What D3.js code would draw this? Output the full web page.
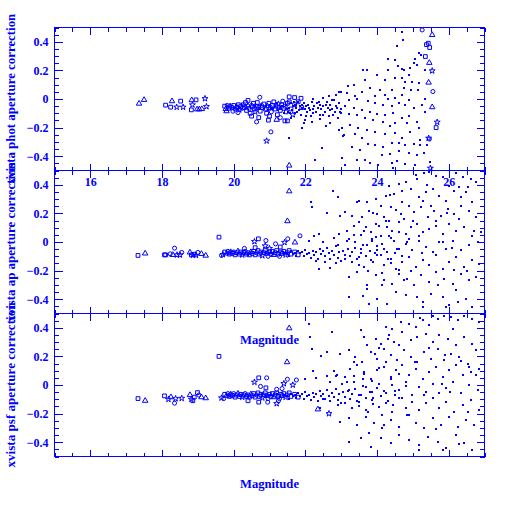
<!DOCTYPE html>
<html>
<head>
<meta charset="utf-8">
<script src="https://cdn.jsdelivr.net/npm/d3@7"></script>
<style>
body { margin: 0; background: #fff; }
svg text { font-family: "Liberation Serif", "DejaVu Serif", serif; font-weight: bold; font-size: 12px; fill: #0000ff; }
</style>
</head>
<body>
<div id="chart"></div>
<script>
// axis ranges and labels
const magRange = [15, 27];
const corrRange = [-0.5, 0.5];
const xTickLabels = [16, 18, 20, 22, 24, 26];
const yTickLabels = [0.4, 0.2, 0, -0.2, -0.4];
const panelLabels = ['xvista phot aperture correction', 'xvista ap aperture correction', 'xvista psf aperture correction'];
const xLabel = 'Magnitude';

// bright stars: [mag, correction, symbol]  s=square t=triangle c=circle p=star
const photBright = [
  [17.36,-0.032,'t'],[17.50,-0.006,'t'],[18.10,-0.043,'s'],[18.24,-0.057,'s'],[18.28,-0.015,'t'],[18.52,-0.015,'s'],
  [18.41,-0.057,'p'],[18.59,-0.057,'p'],[18.83,-0.008,'t'],[18.95,-0.006,'s'],[18.85,-0.041,'p'],[18.82,-0.076,'s'],
  [18.98,-0.072,'t'],[19.04,-0.072,'t'],[19.11,-0.07,'t'],[19.20,0.003,'p'],[19.24,-0.053,'p'],
  [19.75,-0.05,'s'],[19.78,-0.07,'t'],[19.82,-0.045,'c'],[19.86,-0.065,'s'],[19.9,-0.05,'p'],[19.95,-0.06,'s'],
  [19.98,-0.085,'c'],[20.0,-0.045,'s'],[20.04,-0.07,'s'],[20.08,-0.055,'t'],[20.1,-0.06,'s'],[20.13,-0.04,'s'],
  [20.16,-0.075,'p'],[20.2,-0.05,'s'],[20.24,-0.065,'c'],[20.27,-0.04,'s'],[20.3,-0.06,'s'],[20.33,-0.025,'s'],
  [20.36,-0.08,'s'],[20.4,-0.05,'t'],[20.43,-0.065,'s'],[20.46,-0.1,'s'],[20.5,-0.045,'c'],[20.52,-0.055,'s'],
  [20.55,-0.03,'s'],[20.58,-0.07,'s'],[20.6,-0.09,'p'],[20.63,-0.05,'s'],[20.66,-0.025,'s'],[20.7,-0.06,'s'],
  [20.74,-0.085,'s'],[20.78,-0.045,'c'],[20.8,-0.06,'s'],[20.84,-0.035,'s'],[20.88,-0.07,'s'],[20.92,-0.1,'s'],
  [20.94,-0.05,'t'],[20.98,-0.03,'s'],[21.02,-0.06,'s'],[21.05,-0.09,'c'],[21.08,-0.045,'s'],[21.12,-0.02,'s'],
  [21.15,-0.07,'s'],[21.18,-0.05,'s'],[21.22,-0.11,'s'],[21.25,-0.035,'p'],[21.28,-0.06,'s'],[21.3,-0.08,'s'],
  [21.34,-0.04,'s'],[21.37,-0.015,'c'],[21.4,-0.065,'s'],[21.44,-0.05,'s'],[21.47,-0.09,'s'],[21.5,-0.03,'s'],
  [21.55,-0.02,'s'],[21.6,-0.07,'s'],[21.65,-0.11,'p'],[21.7,-0.04,'s'],[21.8,-0.02,'s'],[21.9,-0.06,'s'],
  [20.73,0.012,'c'],[20.64,-0.16,'c'],[21.04,-0.23,'c'],[20.92,-0.293,'p'],[21.55,-0.465,'t'],[20.97,-0.148,'s'],
  [21.43,-0.153,'s'],[21.5,-0.153,'s'],[20.4,-0.01,'s'],[20.5,-0.12,'s'],[20.7,-0.13,'s'],[21.0,-0.12,'s'],
  [21.3,-0.13,'c'],[21.55,0.015,'s'],[21.7,0.01,'s'],[21.88,0.005,'s'],[19.8,-0.085,'t'],[20.12,-0.095,'c'],
  [21.2,-0.145,'t'],
  [25.26,0.483,'c'],[25.54,0.448,'t'],[25.43,0.39,'s'],[25.47,0.36,'s'],[25.38,0.38,'s'],[25.35,0.297,'s'],
  [25.46,0.253,'t'],[25.54,0.197,'p'],[25.44,0.115,'t'],[25.56,0.052,'c'],[25.54,-0.057,'t'],[25.68,-0.162,'p'],
  [25.65,-0.2,'s'],[25.44,-0.274,'p'],[25.46,-0.28,'c'],[25.49,-0.484,'p']
];

// faint stars: [mag, correction]
const photFaint = [
  [20.6,-0.05],[20.7,-0.06],[20.75,-0.04],[20.85,-0.07],[20.9,-0.05],[20.95,-0.08],[21.0,-0.04],[21.05,-0.06],
  [21.1,-0.07],[21.15,-0.05],[21.2,-0.03],[21.25,-0.08],[21.3,-0.06],[21.35,-0.05],[21.4,-0.1],[21.45,-0.04],
  [21.5,-0.07],[21.55,-0.06],[21.6,-0.03],[21.62,-0.08],[21.65,-0.05],[21.7,-0.1],[21.72,-0.04],[21.75,-0.06],
  [21.8,-0.02],[21.82,-0.08],[21.85,-0.05],[21.88,-0.11],[21.9,-0.06],[21.95,-0.03],[22.0,-0.07],[22.02,-0.05],
  [22.05,-0.09],[22.08,-0.04],[22.1,-0.06],[22.15,-0.12],[22.18,-0.02],[22.2,-0.07],[22.25,-0.05],[22.3,-0.09],
  [22.32,-0.03],[22.35,-0.06],[22.4,-0.11],[22.42,-0.04],[22.45,-0.07],[22.5,-0.05],[22.55,-0.09],[22.6,-0.02],
  [22.62,-0.06],[22.65,-0.12],[22.7,-0.04],[22.75,-0.07],[22.8,-0.01],[22.82,-0.09],[22.85,-0.05],[22.9,-0.13],
  [22.95,-0.03],[23.0,-0.07],
  [21.52,-0.09],[21.68,-0.02],[21.78,-0.09],[21.92,-0.04],[22.12,-0.08],[22.22,-0.1],[22.38,-0.02],[22.48,-0.11],
  [22.58,-0.04],[22.68,-0.08],[22.78,-0.11],[22.88,-0.06],[22.98,-0.09],[21.58,-0.1],[22.02,-0.12],
  [21.55,-0.274],[22.46,-0.34],[22.27,-0.426],[21.9,-0.2],[22.18,-0.16],[22.57,-0.19],[23.04,-0.258],[21.6,-0.13],
  [22.0,-0.15],[22.4,-0.14],[22.7,-0.17],[22.2,0.0],[22.5,0.01],[22.65,0.02],[22.85,0.03],[22.75,-0.01],
  [23.0,0.05],[21.95,-0.17],[22.95,-0.22],[23.0,-0.1],
  [24.70,0.47],[24.72,0.41],[24.56,0.37],[25.16,0.32],[25.24,0.31],[24.32,0.28],[24.51,0.27],[25.05,0.28],
  [25.02,0.25],[25.12,0.24],[24.59,0.23],[24.70,0.21],[24.93,0.22],[25.33,0.20],[24.32,0.20],[23.62,0.20],
  [23.72,0.20],[24.74,0.20],[24.0,0.17],[24.88,0.17],[23.35,0.10],[23.19,0.09],[23.67,0.13],[24.21,0.13],
  [24.51,0.15],[24.70,0.145],[24.79,0.12],[24.98,0.12],[25.16,0.115],[23.81,0.08],[23.58,0.05],[24.09,0.06],
  [24.42,0.065],[24.74,0.08],[24.96,0.065],[25.14,0.06],[22.93,0.05],[23.16,0.04],[23.39,0.02],[23.95,0.02],
  [24.23,0.03],[24.32,0.0],[24.51,0.005],[24.70,0.03],[24.88,-0.005],[25.35,0.0],[23.21,-0.006],[23.44,0.0],
  [23.76,-0.013],[23.95,-0.03],[24.18,-0.04],[24.42,-0.05],[24.60,-0.03],[24.79,-0.04],[25.02,-0.06],[25.26,-0.045],
  [23.11,-0.05],[23.35,-0.065],[23.58,-0.075],[23.81,-0.09],[24.0,-0.105],[24.23,-0.115],[24.46,-0.10],[24.70,-0.135],
  [24.88,-0.12],[25.12,-0.16],[25.33,-0.09],[23.21,-0.105],[23.44,-0.115],[23.67,-0.135],[23.90,-0.145],[24.18,-0.16],
  [24.37,-0.19],[24.51,-0.17],[24.84,-0.17],[25.16,-0.205],[23.02,-0.205],[23.25,-0.18],[23.48,-0.20],[23.72,-0.215],
  [23.95,-0.23],[24.23,-0.245],[24.51,-0.24],[24.70,-0.275],[24.93,-0.23],[25.21,-0.285],[23.07,-0.255],[23.39,-0.245],
  [23.58,-0.275],[23.76,-0.315],[23.95,-0.32],[24.18,-0.335],[24.42,-0.31],[24.60,-0.31],[24.79,-0.325],[25.02,-0.315],
  [25.21,-0.325],[25.40,-0.32],[23.30,-0.335],[23.53,-0.355],[24.14,-0.39],[24.37,-0.385],[24.60,-0.365],[24.88,-0.38],
  [25.12,-0.39],[25.30,-0.38],[23.02,-0.415],[23.44,-0.425],[23.67,-0.425],[23.81,-0.45],[24.04,-0.46],[24.42,-0.45],
  [24.56,-0.435],[24.79,-0.455],[25.07,-0.46],[25.49,-0.44],[23.11,-0.46],[24.46,-0.48]
];

const apBright = [
  [17.33,-0.094,'s'],[17.53,-0.08,'t'],[18.07,-0.09,'s'],[18.1,-0.09,'s'],[18.23,-0.083,'c'],[18.35,-0.043,'c'],
  [18.3,-0.09,'t'],[18.42,-0.09,'p'],[18.5,-0.09,'p'],[18.55,-0.073,'c'],[18.78,-0.073,'t'],[18.82,-0.09,'s'],
  [18.86,-0.092,'p'],[18.9,-0.085,'s'],[18.95,-0.093,'p'],[19.0,-0.073,'c'],[19.1,-0.083,'t'],[19.22,-0.095,'t'],
  [19.59,0.034,'s'],[19.66,-0.094,'c'],[19.7,-0.088,'p'],
  [19.75,-0.07,'s'],[19.8,-0.08,'t'],[19.84,-0.065,'c'],[19.88,-0.085,'s'],[19.92,-0.07,'p'],[19.96,-0.08,'s'],
  [20.0,-0.07,'c'],[20.04,-0.09,'s'],[20.08,-0.075,'s'],[20.12,-0.065,'t'],[20.16,-0.085,'s'],[20.2,-0.07,'s'],
  [20.24,-0.09,'p'],[20.28,-0.075,'s'],[20.32,-0.065,'c'],[20.36,-0.085,'s'],[20.4,-0.075,'s'],[20.44,-0.09,'s'],
  [20.48,-0.07,'t'],[20.52,-0.08,'s'],[20.56,-0.065,'s'],[20.6,-0.09,'s'],[20.64,-0.075,'c'],[20.68,-0.06,'s'],
  [20.72,-0.085,'s'],[20.76,-0.07,'s'],[20.8,-0.095,'p'],[20.84,-0.075,'s'],[20.88,-0.06,'s'],[20.92,-0.08,'s'],
  [20.96,-0.1,'c'],[21.0,-0.07,'s'],[21.04,-0.085,'s'],[21.08,-0.065,'s'],[21.12,-0.09,'t'],[21.16,-0.075,'s'],
  [21.2,-0.06,'s'],[21.24,-0.085,'s'],[21.28,-0.1,'c'],[21.32,-0.07,'s'],[21.36,-0.08,'s'],[21.4,-0.065,'s'],
  [21.45,-0.09,'p'],[21.5,-0.075,'s'],[21.55,-0.06,'s'],[21.6,-0.085,'s'],[21.7,-0.07,'s'],[21.8,-0.09,'s'],
  [20.58,0.003,'p'],[20.69,0.022,'s'],[20.9,0.01,'c'],[20.88,-0.027,'p'],[21.17,-0.013,'c'],[21.42,-0.003,'p'],
  [21.51,0.022,'c'],[21.71,-0.003,'t'],[21.85,0.043,'c'],[21.55,0.355,'t'],[21.5,0.146,'t'],[20.3,-0.045,'c'],
  [20.6,-0.04,'s'],[21.0,-0.045,'p'],[21.3,-0.035,'s']
];

const apFaint = [
  [20.8,-0.07],[20.9,-0.08],[21.0,-0.075],[21.1,-0.085],[21.2,-0.07],[21.3,-0.09],[21.4,-0.075],[21.5,-0.08],
  [21.55,-0.1],[21.6,-0.065],[21.65,-0.085],[21.7,-0.075],[21.75,-0.095],[21.8,-0.06],[21.85,-0.08],[21.9,-0.07],
  [21.95,-0.1],[22.0,-0.055],[22.05,-0.085],[22.1,-0.075],[22.15,-0.11],[22.2,-0.06],[22.25,-0.09],[22.3,-0.07],
  [22.35,-0.12],[22.4,-0.05],[22.45,-0.085],[22.5,-0.065],[22.55,-0.1],[22.6,-0.04],[22.65,-0.08],[22.7,-0.12],
  [22.75,-0.06],[22.8,-0.09],[22.85,-0.03],[22.9,-0.11],[22.95,-0.07],[23.0,-0.13],
  [22.18,0.248],[22.15,0.283],[22.77,0.355],[22.9,0.318],[22.6,0.204],[22.37,-0.188],[22.7,-0.18],[22.25,0.045],
  [22.37,0.057],[22.1,0.01],[22.5,0.0],[22.8,0.03],[22.9,-0.02],[22.3,-0.13],[22.55,-0.14],[22.85,-0.15],
  [23.05,-0.06],[23.1,-0.09],[23.2,-0.05],[23.25,-0.1],[23.3,-0.07],[23.4,-0.04],[23.45,-0.12],[23.55,-0.08],
  [23.6,-0.02],[23.7,-0.1],[23.8,-0.06],[23.9,-0.14],[24.0,-0.03],[24.1,-0.09],[24.2,-0.05],[24.3,-0.12],
  [24.4,0.03],[24.5,-0.08],[24.6,0.07],[24.7,-0.1],[23.15,0.01],[23.35,0.05],[23.65,0.08],[23.85,0.02],
  [24.05,0.11],[24.25,0.15],[23.5,-0.16],[23.75,-0.2],[24.15,-0.22],
  [23.3,0.18],[23.55,0.05],[23.9,0.2],[24.15,-0.3],[24.35,0.33],[24.55,-0.05],[24.85,0.0],[25.0,0.15],
  [25.25,-0.08],[25.5,0.25],[25.7,-0.3],[25.95,0.2],[26.1,-0.04],[26.3,0.16],[26.5,-0.2],[26.7,0.08],
  [25.4,0.4],[24.95,-0.2],[24.4,-0.15],[23.95,-0.08],[23.6,-0.38],[25.85,0.0],[26.25,-0.42],[25.1,0.47],[24.1,0.25],
  [25.31,0.48],[25.45,0.49],[25.64,0.465],[25.83,0.453],[26.20,0.48],[26.39,0.453],[26.62,0.44],[26.76,0.42],
  [25.13,0.44],[24.80,0.42],[24.61,0.407],[24.33,0.395],[26.01,0.395],[26.29,0.383],[26.53,0.383],
  [23.96,0.302],[24.24,0.325],[24.47,0.337],[24.71,0.36],[24.94,0.372],[25.17,0.313],[25.36,0.348],[25.55,0.372],
  [25.73,0.325],[25.92,0.29],[26.15,0.36],[26.34,0.313],[26.48,0.348],[26.66,0.28],[23.50,0.29],[23.73,0.28],
  [24.71,0.28],[25.27,0.29],
  [22.98,0.185],[23.12,0.209],[23.45,0.28],[23.59,0.174],[23.78,0.22],[24.01,0.197],[24.20,0.174],[24.38,0.243],
  [24.52,0.225],[24.66,0.197],[24.89,0.255],[25.03,0.209],[25.22,0.243],[25.41,0.174],[25.59,0.22],[25.78,0.185],
  [25.97,0.232],[26.15,0.197],[26.34,0.255],[26.57,0.22],[26.76,0.174],[24.33,0.15],[24.75,0.162],[25.64,0.15],
  [22.94,0.057],[23.17,0.08],[23.36,0.115],[23.50,0.139],[23.68,0.104],[23.82,0.069],[23.96,0.127],[24.10,0.045],
  [24.29,0.104],[24.43,0.08],[24.61,0.139],[24.80,0.057],[24.94,0.104],[25.13,0.127],[25.27,0.069],[25.45,0.092],
  [25.64,0.115],[25.83,0.057],[26.01,0.127],[26.20,0.08],[26.43,0.104],[26.66,0.045],[26.90,0.069],[25.17,0.045],
  [24.33,0.045],
  [23.22,0.022],[23.40,-0.001],[23.54,-0.048],[23.73,-0.024],[23.87,0.01],[24.01,-0.059],[24.15,-0.013],[24.29,-0.071],
  [24.47,0.01],[24.61,-0.048],[24.80,-0.013],[24.99,-0.059],[25.17,0.01],[25.36,-0.036],[25.55,-0.071],[25.73,-0.001],
  [25.92,-0.048],[26.11,0.01],[26.34,-0.059],[26.57,-0.024],[26.81,-0.001],[24.89,0.022],[23.96,0.034],
  [23.12,-0.118],[23.31,-0.141],[23.50,-0.106],[23.64,-0.176],[23.82,-0.129],[24.01,-0.094],[24.20,-0.164],[24.38,-0.118],
  [24.52,-0.188],[24.71,-0.141],[24.89,-0.106],[25.08,-0.176],[25.27,-0.129],[25.45,-0.164],[25.64,-0.094],[25.83,-0.188],
  [26.01,-0.141],[26.20,-0.106],[26.43,-0.176],[26.66,-0.129],[26.85,-0.153],[24.61,-0.199],[26.15,-0.199],
  [23.22,-0.246],[23.45,-0.211],[23.73,-0.304],[23.96,-0.234],[24.20,-0.269],[24.43,-0.293],[24.61,-0.223],[24.85,-0.258],
  [25.03,-0.304],[25.22,-0.234],[25.45,-0.281],[25.64,-0.211],[25.87,-0.258],[26.11,-0.293],[26.34,-0.223],[26.57,-0.269],
  [26.76,-0.246],[24.75,-0.269],
  [23.22,-0.386],[23.73,-0.328],[23.78,-0.432],[24.01,-0.397],[24.29,-0.432],[24.52,-0.351],[24.80,-0.374],[25.13,-0.386],
  [25.27,-0.421],[25.50,-0.362],[25.83,-0.386],[26.01,-0.444],[26.20,-0.339],[26.48,-0.397],[26.66,-0.456],[25.27,-0.456],
  [25.92,-0.456]
];

const psfBright = [
  [17.33,-0.095,'s'],[17.53,-0.11,'t'],[18.07,-0.076,'s'],[18.18,-0.1,'p'],[18.25,-0.085,'t'],[18.35,-0.127,'c'],
  [18.38,-0.095,'p'],[18.55,-0.093,'p'],[18.78,-0.07,'t'],[18.82,-0.1,'p'],[18.86,-0.11,'s'],[18.9,-0.085,'s'],
  [18.99,-0.053,'s'],[19.03,-0.07,'c'],[19.1,-0.085,'t'],[19.22,-0.092,'t'],[19.59,0.2,'s'],[21.55,0.397,'t'],
  [21.49,0.16,'t'],[19.66,-0.09,'p'],[19.72,-0.095,'c'],
  [19.75,-0.065,'s'],[19.8,-0.075,'t'],[19.84,-0.06,'c'],[19.88,-0.08,'s'],[19.92,-0.065,'p'],[19.96,-0.075,'s'],
  [20.0,-0.06,'c'],[20.04,-0.085,'s'],[20.08,-0.07,'s'],[20.12,-0.06,'t'],[20.16,-0.08,'s'],[20.2,-0.065,'s'],
  [20.24,-0.085,'p'],[20.28,-0.07,'s'],[20.32,-0.06,'c'],[20.36,-0.08,'s'],[20.4,-0.07,'s'],[20.44,-0.085,'s'],
  [20.48,-0.065,'t'],[20.52,-0.075,'s'],[20.56,-0.06,'s'],[20.6,-0.085,'s'],[20.64,-0.07,'c'],[20.68,-0.055,'s'],
  [20.72,-0.08,'s'],[20.76,-0.065,'s'],[20.8,-0.09,'p'],[20.84,-0.07,'s'],[20.88,-0.055,'s'],[20.92,-0.075,'s'],
  [20.96,-0.095,'c'],[21.0,-0.065,'s'],[21.04,-0.08,'s'],[21.08,-0.06,'s'],[21.12,-0.085,'t'],[21.16,-0.07,'s'],
  [21.2,-0.055,'s'],[21.24,-0.08,'s'],[21.28,-0.095,'c'],[21.32,-0.065,'s'],[21.36,-0.075,'s'],[21.4,-0.06,'s'],
  [21.45,-0.085,'p'],[21.5,-0.07,'s'],[21.55,-0.055,'s'],[21.6,-0.08,'s'],[21.7,-0.065,'s'],[21.8,-0.085,'s'],
  [20.58,0.02,'p'],[20.7,0.05,'s'],[20.92,0.05,'c'],[20.75,-0.01,'c'],[20.9,-0.02,'s'],[21.2,-0.03,'c'],
  [21.35,-0.025,'c'],[21.5,0.04,'c'],[21.4,0.01,'p'],[21.65,0.0,'p'],[21.75,0.035,'c'],[22.66,-0.2,'p'],
  [22.35,-0.17,'t'],[20.4,-0.11,'s'],[20.95,-0.12,'c'],[21.2,-0.13,'p'],[21.25,-0.11,'c'],[20.7,-0.12,'s']
];

const psfFaint = [
  [20.8,-0.065],[20.9,-0.075],[21.0,-0.07],[21.1,-0.08],[21.2,-0.065],[21.3,-0.085],[21.4,-0.07],[21.5,-0.075],
  [21.55,-0.095],[21.6,-0.06],[21.65,-0.08],[21.7,-0.07],[21.75,-0.09],[21.8,-0.055],[21.85,-0.075],[21.9,-0.065],
  [21.95,-0.095],[22.0,-0.05],[22.05,-0.08],[22.1,-0.07],[22.15,-0.105],[22.2,-0.055],[22.25,-0.085],[22.3,-0.065],
  [22.35,-0.115],[22.4,-0.045],[22.45,-0.08],[22.5,-0.06],[22.55,-0.095],[22.6,-0.035],[22.65,-0.075],[22.7,-0.115],
  [22.75,-0.055],[22.8,-0.085],[22.85,-0.025],[22.9,-0.105],[22.95,-0.065],[23.0,-0.125],
  [22.13,0.334],[22.18,0.252],[22.74,0.37],[22.1,0.43],[22.45,0.2],[22.6,0.23],[22.2,0.1],[22.3,0.05],
  [22.6,0.06],[22.8,0.1],[22.0,0.04],[22.4,-0.16],[22.9,-0.14],[22.5,-0.1],[22.85,0.06],[22.7,0.02],
  [23.05,-0.05],[23.1,-0.085],[23.2,-0.04],[23.25,-0.095],[23.3,-0.06],[23.4,-0.03],[23.45,-0.11],[23.55,-0.07],
  [23.6,-0.01],[23.7,-0.09],[23.8,-0.05],[23.9,-0.13],[24.0,-0.02],[24.1,-0.08],[24.2,-0.04],[24.3,-0.11],
  [24.4,0.04],[24.5,-0.07],[24.6,0.08],[24.7,-0.09],[23.15,0.02],[23.35,0.06],[23.65,0.09],[23.85,0.03],
  [24.05,0.12],[24.25,0.16],[23.5,-0.15],[23.75,-0.19],[24.15,-0.21],
  [23.35,0.16],[23.6,0.04],[23.95,0.22],[24.2,-0.28],[24.3,0.32],[24.5,-0.04],[24.8,-0.01],[25.05,0.16],
  [25.3,-0.07],[25.45,0.26],[25.65,-0.31],[25.9,0.21],[26.05,-0.05],[26.35,0.17],[26.55,-0.19],[26.75,0.07],
  [25.45,0.42],[24.9,-0.21],[24.45,-0.14],[23.9,-0.09],[23.55,-0.37],[25.8,0.01],[26.3,-0.41],[25.2,0.47],[24.05,0.26],
  [25.55,0.48],[25.69,0.465],[25.87,0.483],[26.06,0.475],[26.25,0.453],[26.43,0.48],[26.66,0.465],[26.85,0.44],
  [25.27,0.453],[24.89,0.43],[24.66,0.44],[24.43,0.395],[24.24,0.407],[23.54,0.383],[23.64,0.337],[23.96,0.325],
  [25.08,0.407],[26.11,0.395],
  [24.71,0.372],[24.94,0.313],[25.13,0.337],[25.36,0.36],[25.55,0.302],[25.73,0.348],[25.97,0.325],[26.20,0.28],
  [26.43,0.337],[26.66,0.29],[24.33,0.348],[24.10,0.29],[24.61,0.28],[23.73,0.28],[24.47,0.302],
  [22.98,0.22],[23.22,0.243],[23.40,0.197],[23.59,0.162],[23.82,0.232],[24.01,0.185],[24.20,0.255],[24.38,0.209],
  [24.57,0.174],[24.75,0.243],[24.94,0.197],[25.13,0.162],[25.31,0.232],[25.50,0.185],[25.69,0.255],[25.87,0.174],
  [26.06,0.22],[26.29,0.197],[26.53,0.15],[26.76,0.243],[26.57,0.127],
  [22.89,0.069],[23.12,0.057],[23.26,0.115],[23.45,0.139],[23.64,0.08],[23.82,0.045],[24.01,0.104],[24.20,0.127],
  [24.38,0.057],[24.52,0.104],[24.71,0.139],[24.89,0.069],[25.08,0.115],[25.27,0.045],[25.45,0.092],[25.64,0.127],
  [25.83,0.057],[26.01,0.104],[26.20,0.139],[26.39,0.069],[26.62,0.092],[26.85,0.115],
  [23.03,0.01],[23.22,-0.036],[23.36,0.022],[23.50,-0.071],[23.68,-0.013],[23.87,-0.048],[24.06,0.01],[24.24,-0.059],
  [24.43,-0.001],[24.61,-0.036],[24.80,0.022],[24.99,-0.071],[25.17,-0.013],[25.36,-0.048],[25.55,0.01],[25.73,-0.059],
  [25.92,-0.024],[26.11,0.022],[26.34,-0.059],[26.57,-0.001],[26.81,-0.036],
  [23.12,-0.129],[23.31,-0.164],[23.50,-0.118],[23.68,-0.176],[23.87,-0.106],[24.06,-0.153],[24.24,-0.129],[24.43,-0.188],
  [24.61,-0.094],[24.80,-0.164],[24.99,-0.118],[25.17,-0.176],[25.36,-0.129],[25.55,-0.094],[25.73,-0.164],[25.92,-0.118],
  [26.15,-0.188],[26.39,-0.141],[26.62,-0.106],[26.85,-0.176],
  [22.98,-0.258],[23.22,-0.234],[23.45,-0.281],[23.68,-0.223],[23.92,-0.269],[24.15,-0.304],[24.38,-0.246],[24.61,-0.293],
  [24.85,-0.211],[25.08,-0.269],[25.31,-0.304],[25.55,-0.234],[25.78,-0.281],[26.01,-0.223],[26.25,-0.293],[26.48,-0.246],
  [26.71,-0.281],
  [23.22,-0.397],[23.78,-0.339],[23.82,-0.432],[24.10,-0.374],[24.38,-0.409],[24.61,-0.351],[24.89,-0.386],[25.17,-0.421],
  [25.41,-0.362],[25.69,-0.397],[25.92,-0.444],[26.20,-0.351],[26.43,-0.409],[26.66,-0.456],[25.17,-0.456],[25.83,-0.456]
];

const panels = [
  { label: panelLabels[0], bright: photBright, faint: photFaint, xLabels: true },
  { label: panelLabels[1], bright: apBright, faint: apFaint, xLabels: false },
  { label: panelLabels[2], bright: psfBright, faint: psfFaint, xLabels: false }
];

const blue = '#0000ff';
const w = 512, h = 512;
const left = 54.5, right = 484.5;
const panelH = 143, firstTop = 27.5;

const svg = d3.select('#chart').append('svg')
  .attr('width', w).attr('height', h)
  .style('display', 'block');

svg.append('rect').attr('width', w).attr('height', h).attr('fill', '#fff');

const x = d3.scaleLinear().domain(magRange).range([left, right]);

const symbols = { s: d3.symbolSquare, t: d3.symbolTriangle, c: d3.symbolCircle, p: d3.symbolStar };
const symSize = { s: 14, t: 13, c: 13, p: 11 };

const minorX = d3.range(magRange[0], magRange[1] + 0.01, 0.5);
const minorY = d3.range(-10, 11).map(v => v * 0.05);
const yFmt = d => d === 0 ? '0' : d3.format('.1f')(d);

const styleAxis = g => {
  g.select('.domain').remove();
  g.selectAll('line').attr('stroke', blue).attr('shape-rendering', 'crispEdges');
  g.selectAll('text').attr('fill', blue);
};

panels.forEach((p, i) => {
  const top = firstTop + i * panelH;
  const bottom = top + panelH;
  const y = d3.scaleLinear().domain(corrRange).range([bottom, top]);
  const g = svg.append('g');

  // faint stars, small filled squares
  g.selectAll('rect.faint')
    .data(p.faint)
    .enter()
    .append('rect')
    .attr('class', 'faint')
    .attr('x', d => Math.round(x(d[0])) - 1)
    .attr('y', d => Math.round(y(d[1])) - 1)
    .attr('width', 2)
    .attr('height', 2)
    .attr('fill', blue);

  // bright stars, open symbols
  g.selectAll('path.bright')
    .data(p.bright)
    .enter()
    .append('path')
    .attr('class', 'bright')
    .attr('transform', d => 'translate(' + x(d[0]) + ',' + y(d[1]) + ')')
    .attr('d', d => d3.symbol().type(symbols[d[2]]).size(symSize[d[2]])())
    .attr('fill', 'none')
    .attr('stroke', blue)
    .attr('stroke-width', 1);

  // minor ticks
  g.append('g').attr('transform', 'translate(0,' + bottom + ')')
    .call(d3.axisBottom(x).tickValues(minorX).tickSize(-4).tickFormat('')).call(styleAxis);
  g.append('g').attr('transform', 'translate(0,' + top + ')')
    .call(d3.axisTop(x).tickValues(minorX).tickSize(-4).tickFormat('')).call(styleAxis);
  g.append('g').attr('transform', 'translate(' + left + ',0)')
    .call(d3.axisLeft(y).tickValues(minorY).tickSize(-4.5).tickFormat('')).call(styleAxis);
  g.append('g').attr('transform', 'translate(' + right + ',0)')
    .call(d3.axisRight(y).tickValues(minorY).tickSize(-4.5).tickFormat('')).call(styleAxis);

  // major ticks
  g.append('g').attr('transform', 'translate(0,' + bottom + ')')
    .call(d3.axisBottom(x).tickValues(xTickLabels).tickSize(-7).tickPadding(7)
      .tickFormat(p.xLabels ? d3.format('d') : '')).call(styleAxis);
  g.append('g').attr('transform', 'translate(0,' + top + ')')
    .call(d3.axisTop(x).tickValues(xTickLabels).tickSize(-7).tickFormat('')).call(styleAxis);
  g.append('g').attr('transform', 'translate(' + left + ',0)')
    .call(d3.axisLeft(y).tickValues(yTickLabels).tickSize(-8).tickPadding(6).tickFormat(yFmt)).call(styleAxis);
  g.append('g').attr('transform', 'translate(' + right + ',0)')
    .call(d3.axisRight(y).tickValues(yTickLabels).tickSize(-8).tickFormat('')).call(styleAxis);

  // frame
  g.append('rect')
    .attr('x', left).attr('y', top)
    .attr('width', right - left).attr('height', panelH)
    .attr('fill', 'none').attr('stroke', blue)
    .attr('shape-rendering', 'crispEdges');

  // y label
  svg.append('text')
    .attr('transform', 'translate(15,' + (top + panelH / 2) + ') rotate(-90)')
    .attr('text-anchor', 'middle')
    .attr('textLength', p.label.length * 5.5)
    .attr('lengthAdjust', 'spacingAndGlyphs')
    .text(p.label);
});

// x labels: one left inside the last panel, one below
[344, 488].forEach(by => {
  svg.append('text')
    .attr('x', 269.5).attr('y', by)
    .attr('text-anchor', 'middle')
    .attr('textLength', 59)
    .attr('lengthAdjust', 'spacingAndGlyphs')
    .text(xLabel);
});
</script>
</body>
</html>
